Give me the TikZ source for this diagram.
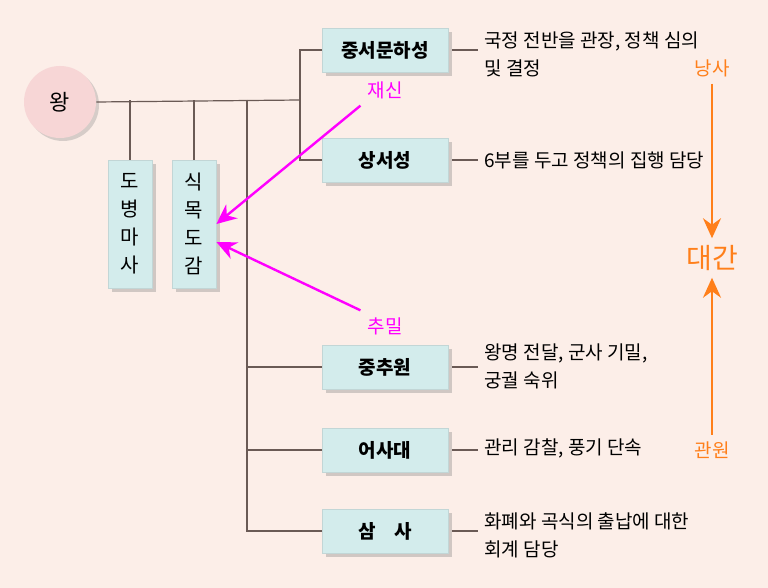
\documentclass[tikz,border=0pt]{standalone}
\usepackage{fontspec}
\setmainfont{Noto Sans CJK KR}
\usetikzlibrary{shadows,arrows.meta}
\definecolor{bgpink}{HTML}{FCEEE8}
\definecolor{boxcyan}{HTML}{D3ECEC}
\definecolor{kingpink}{HTML}{F7D6D6}
\definecolor{linegray}{HTML}{6A5A55}
\definecolor{orangeline}{HTML}{FF7F1A}
\definecolor{pinkarrow}{HTML}{FF00FF}
\begin{document}
\begin{tikzpicture}[x=0.5pt,y=-0.5pt]
  \tikzstyle{office} = [rectangle, fill=boxcyan, draw=boxcyan!80!gray, drop shadow={shadow xshift=2pt,shadow yshift=-2pt,opacity=0.35}, minimum width=63pt, minimum height=22pt, font=\fontsize{9.5}{11}\selectfont\bfseries]
  \tikzstyle{vbox} = [office, minimum width=22pt, minimum height=64pt, text width=11pt, align=center, font=\fontsize{10}{14}\selectfont]
  \tikzstyle{desc} = [anchor=west, align=left, inner sep=0pt, font=\fontsize{9.5}{14}\selectfont]
  \tikzstyle{line} = [draw=linegray, line width=0.6pt]
  \tikzstyle{magarrow} = [draw=pinkarrow, line width=1.2pt, -{Stealth[length=10pt,width=9pt]}]
  \tikzstyle{orarrow} = [draw=orangeline, line width=1.2pt, -{Stealth[length=10pt,width=9pt]}]
  \fill[bgpink] (0,0) rectangle (768,588);
  \useasboundingbox (0,0) rectangle (768,588);

  \node [circle, fill=kingpink, minimum size=36pt, drop shadow={shadow xshift=1.5pt,shadow yshift=-1.5pt,opacity=0.3}, font=\fontsize{11}{12}\selectfont] (king) at (60,102) {왕};
  \node [office] (jungseo) at (385,50) {중서문하성};
  \node [office] (sangseo) at (385,160) {상서성};
  \node [vbox] (dobyeong) at (130,224) {도\\병\\마\\사};
  \node [vbox] (sikmok) at (194,224) {식\\목\\도\\감};
  \node [office] (jungchu) at (385,367) {중추원};
  \node [office] (eosa) at (385,450) {어사대};
  \node [office] (samsa) at (385,531) {삼\hspace{1em}사};

  \coordinate (hub) at (300,100);
  \coordinate (spine) at (247,100);
  \path [line] (king.east) -- (hub);
  \path [line] (jungseo.west) -| (hub) |- (sangseo.west);
  \path [line] (dobyeong.north) -- (dobyeong.north |- hub);
  \path [line] (sikmok.north) -- (sikmok.north |- hub);
  \path [line] (spine) |- (samsa.west);
  \path [line] (jungchu.west) -- (jungchu.west -| spine);
  \path [line] (eosa.west) -- (eosa.west -| spine);

  \foreach \o in {jungseo, sangseo, jungchu, eosa, samsa}
    \path [line] ([xshift=2pt]\o.east) -- ++(26,0);
  \node [desc] at (484,54) {국정 전반을 관장, 정책 심의\\및 결정};
  \node [desc] at (484,160) {6부를 두고 정책의 집행 담당};
  \node [desc] at (484,366) {왕명 전달, 군사 기밀,\\궁궐 숙위};
  \node [desc] at (484,448) {관리 감찰, 풍기 단속};
  \node [desc] at (484,535) {화폐와 곡식의 출납에 대한\\회계 담당};

  \node [text=pinkarrow, font=\fontsize{9.5}{10}\selectfont] (jaesin) at (385,90) {재신};
  \node [text=pinkarrow, font=\fontsize{9.5}{10}\selectfont] (chumil) at (385,326) {추밀};
  \path [magarrow] (jaesin.south west) -- (sikmok.east);
  \path [magarrow] (chumil.north west) -- ([yshift=-9pt]sikmok.east);

  \node [text=orangeline, font=\fontsize{9.5}{10}\selectfont] (nangsa) at (712,68) {낭사};
  \node [text=orangeline, font=\fontsize{14}{15}\selectfont] (daegan) at (712,258) {대간};
  \node [text=orangeline, font=\fontsize{9.5}{10}\selectfont] (gwanwon) at (712,450) {관원};
  \path [orarrow] (nangsa) -- (daegan);
  \path [orarrow] (gwanwon) -- (daegan);
\end{tikzpicture}
\end{document}
